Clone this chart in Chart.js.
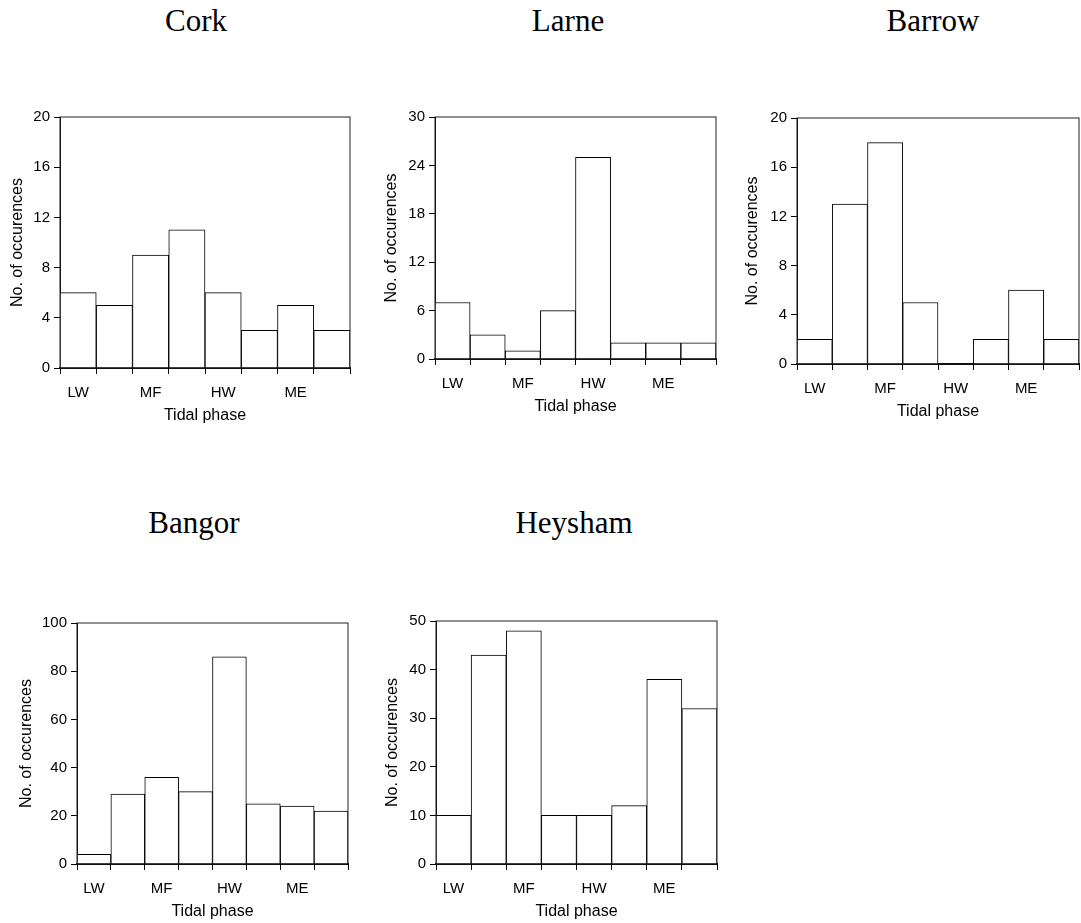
<!DOCTYPE html>
<html>
<head>
<meta charset="utf-8">
<script src="https://cdn.jsdelivr.net/npm/chart.js@4"></script>
<style>
  html, body { margin: 0; padding: 0; background: #fff; overflow: hidden; }
  body { width: 1081px; height: 923px; position: relative; }
  .box { position: absolute; }
  .site {
    position: absolute; width: 200px; text-align: center;
    font-family: "Liberation Serif", "Times New Roman", serif;
    font-size: 31px; line-height: 31px; color: #000;
  }
</style>
</head>
<body>
<div class="site" style="left:96px; top:5px;">Cork</div>
<div class="site" style="left:468px; top:5px;">Larne</div>
<div class="site" style="left:833px; top:5px;">Barrow</div>
<div class="site" style="left:94px; top:507px;">Bangor</div>
<div class="site" style="left:474px; top:507px;">Heysham</div>

<div class="box" id="boxCork"><canvas id="cork"></canvas></div>
<div class="box" id="boxLarne"><canvas id="larne"></canvas></div>
<div class="box" id="boxBarrow"><canvas id="barrow"></canvas></div>
<div class="box" id="boxBangor"><canvas id="bangor"></canvas></div>
<div class="box" id="boxHeysham"><canvas id="heysham"></canvas></div>

<script>
// tidal phase bins (8 per cycle), labelled every second bin
const phaseLabels = ["LW", "", "MF", "", "HW", "", "ME", ""];

const corkValues    = [6, 5, 9, 11, 6, 3, 5, 3];
const larneValues   = [7, 3, 1, 6, 25, 2, 2, 2];
const barrowValues  = [2, 13, 18, 5, 0, 2, 6, 2];
const bangorValues  = [4, 29, 36, 30, 86, 25, 24, 22];
const heyshamValues = [10, 43, 48, 10, 10, 12, 38, 32];

const corkTicks    = [0, 4, 8, 12, 16, 20];
const larneTicks   = [0, 6, 12, 18, 24, 30];
const barrowTicks  = [0, 4, 8, 12, 16, 20];
const bangorTicks  = [0, 20, 40, 60, 80, 100];
const heyshamTicks = [0, 10, 20, 30, 40, 50];

const FONT = "'Liberation Sans', Arial, sans-serif";
const TOP_PAD = 10, RIGHT_PAD = 1, X_HEIGHT = 61;

// box around the plot area
const framePlugin = {
    id: "frame",
    afterDraw(chart) {
        const a = chart.chartArea;
        const ctx = chart.ctx;
        ctx.save();
        ctx.strokeStyle = "#222";
        ctx.lineWidth = 1;
        ctx.strokeRect(a.left, a.top, a.right - a.left, a.bottom - a.top);
        ctx.restore();
    }
};

function makeHist(id, boxId, plot, values, ticks, yWidth) {
    const box = document.getElementById(boxId);
    box.style.left = (plot.left - yWidth) + "px";
    box.style.top = (plot.top - TOP_PAD) + "px";
    box.style.width = (plot.right - plot.left + yWidth + RIGHT_PAD) + "px";
    box.style.height = (plot.bottom - plot.top + TOP_PAD + X_HEIGHT) + "px";

    new Chart(document.getElementById(id), {
        type: "bar",
        data: {
            labels: phaseLabels,
            datasets: [{
                data: values,
                backgroundColor: "#fff",
                borderColor: "#000",
                borderWidth: 1,
                barPercentage: 1,
                categoryPercentage: 1
            }]
        },
        options: {
            responsive: true,
            maintainAspectRatio: false,
            animation: false,
            layout: { padding: { top: TOP_PAD, right: RIGHT_PAD, left: 0, bottom: 0 } },
            plugins: { legend: { display: false }, tooltip: { enabled: false } },
            scales: {
                x: {
                    grid: { display: true, drawOnChartArea: false, drawTicks: true, tickLength: 6, color: "#000", offset: true },
                    border: { display: true, color: "#000", width: 2 },
                    ticks: { color: "#000", font: { family: FONT, size: 15 }, padding: 10, autoSkip: false, maxRotation: 0 },
                    title: { display: true, text: "Tidal phase", color: "#000", font: { family: FONT, size: 16 } },
                    afterFit(scale) { scale.height = X_HEIGHT; }
                },
                y: {
                    min: ticks[0],
                    max: ticks[ticks.length - 1],
                    ticks: { stepSize: ticks[1] - ticks[0], color: "#000", font: { family: FONT, size: 15 }, padding: 4 },
                    grid: { display: true, drawOnChartArea: false, drawTicks: true, tickLength: 6, color: "#000" },
                    border: { display: true, color: "#000", width: 1 },
                    title: { display: true, text: "No. of occurences", color: "#000", font: { family: FONT, size: 16 } },
                    afterFit(scale) { scale.width = yWidth; }
                }
            }
        },
        plugins: [framePlugin]
    });
}

makeHist("cork", "boxCork", { left: 60, top: 114, right: 350, bottom: 368 }, corkValues, corkTicks, 56);
makeHist("larne", "boxLarne", { left: 435, top: 114, right: 716, bottom: 359 }, larneValues, larneTicks, 57);
makeHist("barrow", "boxBarrow", { left: 797, top: 115, right: 1079, bottom: 364 }, barrowValues, barrowTicks, 58);
makeHist("bangor", "boxBangor", { left: 77, top: 620, right: 348, bottom: 864 }, bangorValues, bangorTicks, 64);
makeHist("heysham", "boxHeysham", { left: 436, top: 618, right: 717, bottom: 864 }, heyshamValues, heyshamTicks, 57);
</script>
</body>
</html>
